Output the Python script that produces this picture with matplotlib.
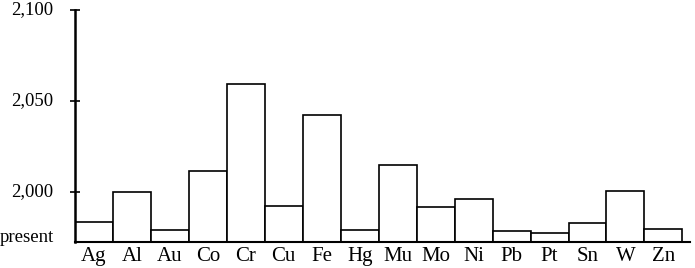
import numpy as np
import matplotlib
matplotlib.use("Agg")
from matplotlib import pyplot as plt
from matplotlib import transforms

# metals and the year their reserves run out
metals = ["Ag", "Al", "Au", "Co", "Cr", "Cu", "Fe", "Hg",
          "Mu", "Mo", "Ni", "Pb", "Pt", "Sn", "W", "Zn"]
years = [1983.7, 2000.0, 1979.1, 2011.5, 2059.2, 1992.3, 2042.1, 1979.1,
         2015.0, 1991.9, 1996.3, 1978.6, 1977.6, 1983.1, 2000.7, 1979.7]
present = 1972.7
ytick_vals = [present, 2000, 2050, 2100]
ytick_labels = ["present", "2,000", "2,050", "2,100"]

plt.rcParams['font.family'] = ['Liberation Serif', 'DejaVu Serif']

fig = plt.figure(figsize=(6.95, 2.68), dpi=100)
ax = fig.add_axes([75 / 695, 26.3 / 268, 615 / 695, 231.7 / 268])

x = np.arange(len(metals))
heights = np.array(years) - present
ax.bar(x, heights, width=1.0, bottom=present, align='edge',
       facecolor='white', edgecolor='black', linewidth=1.2)

ax.set_xlim(0, 16.2)
ax.set_ylim(present, 2100)

ax.set_xticks(x + 0.5)
ax.set_xticklabels(metals, fontsize=15)
ax.tick_params(axis='x', length=0, pad=4)

ax.set_yticks(ytick_vals)
ax.set_yticklabels(ytick_labels, fontsize=13.5)
ax.tick_params(axis='y', direction='inout', length=7, width=1.2, pad=12)
ax.yaxis.get_major_ticks()[0].tick1line.set_visible(False)

# "present" sits on the baseline, the years a little above their ticks
for i, lab in enumerate(ax.get_yticklabels()):
    if i == 0:
        lab.set_va('baseline')
    else:
        lab.set_transform(lab.get_transform() +
                          transforms.ScaledTranslation(0, 2 / 100, fig.dpi_scale_trans))

for s in ['top', 'right']:
    ax.spines[s].set_visible(False)
ax.spines['left'].set_linewidth(1.8)
ax.spines['bottom'].set_linewidth(1.5)

fig.savefig("out.png", dpi=100)
